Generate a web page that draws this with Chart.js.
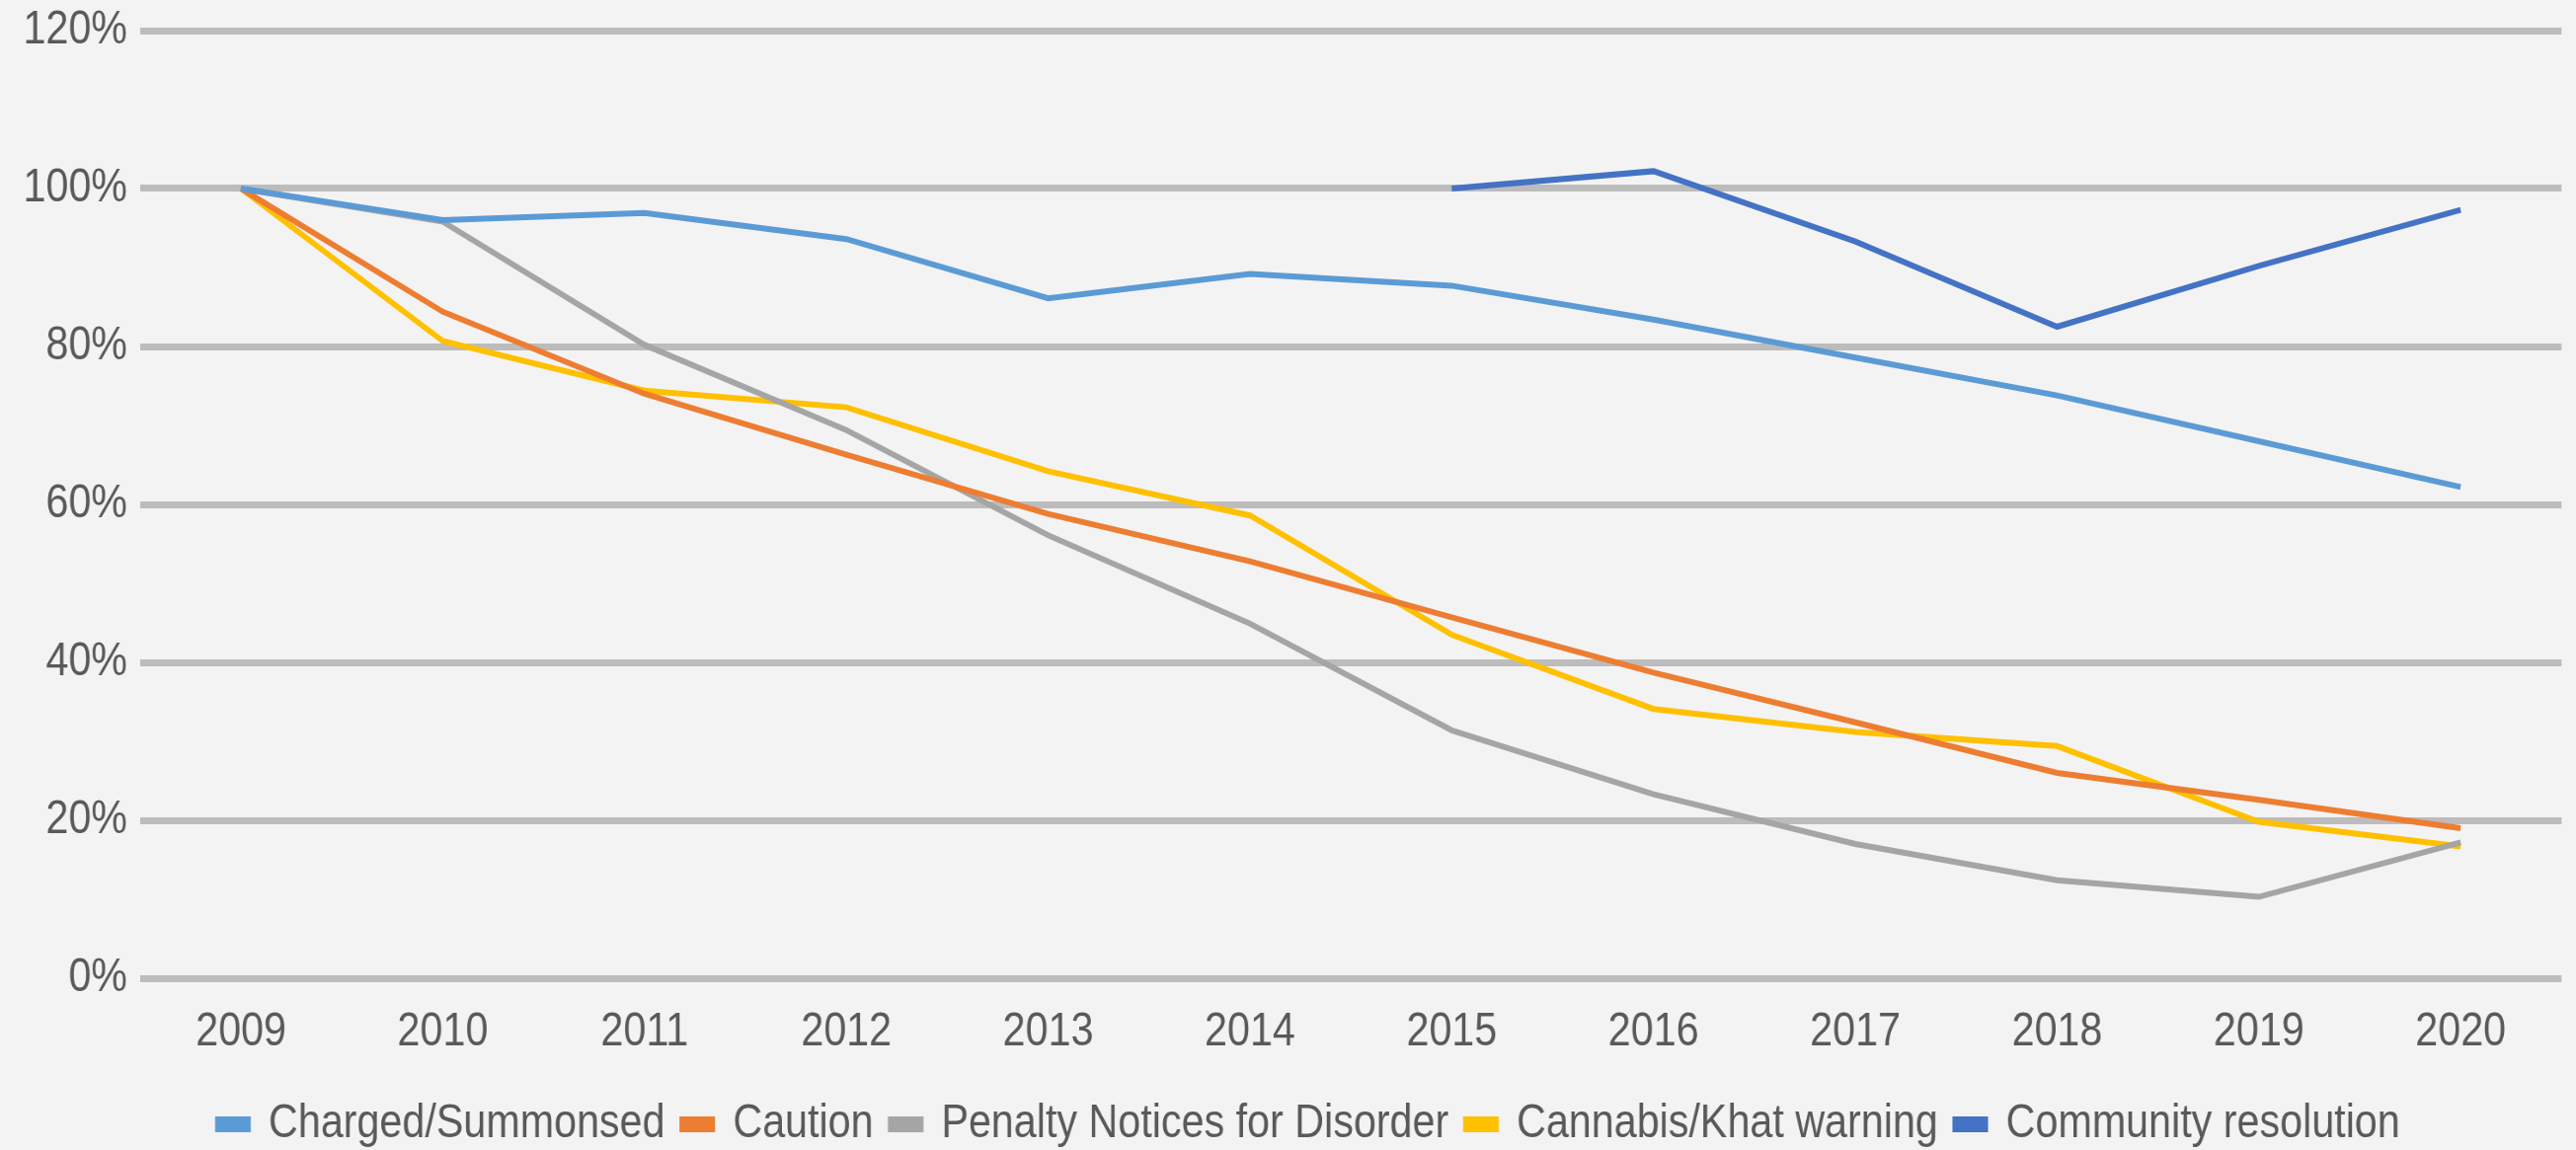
<!DOCTYPE html>
<html>
<head>
<meta charset="utf-8">
<script src="https://cdn.jsdelivr.net/npm/chart.js@4"></script>
<style>
  html, body { margin: 0; padding: 0; background: #f3f3f3; }
  #wrap { width: 2609px; height: 1165px; overflow: hidden; }
  /* the source chart uses a narrow face: draw wider, show squeezed */
  #outcomes { width: 2609px !important; height: 1165px !important; display: block; }
</style>
</head>
<body>
<div id="wrap"><canvas id="outcomes" width="3034" height="1165"></canvas></div>
<script>
const years = ['2009', '2010', '2011', '2012', '2013', '2014', '2015', '2016', '2017', '2018', '2019', '2020'];

// values as % of the 2009 level (community resolution indexed to 2015)
const charged = [100, 96.0, 96.9, 93.6, 86.1, 89.2, 87.7, 83.4, 78.6, 73.8, 68.0, 62.2];
const caution = [100, 84.4, 74.0, 66.3, 58.8, 52.8, 45.7, 38.7, 32.4, 26.0, 22.6, 19.0];
const penaltyNotices = [100, 95.8, 80.2, 69.4, 56.1, 44.9, 31.4, 23.3, 17.0, 12.4, 10.3, 17.2];
const cannabisWarning = [100, 80.7, 74.4, 72.3, 64.2, 58.6, 43.5, 34.1, 31.2, 29.4, 19.8, 16.7];
const communityResolution = [null, null, null, null, null, null, 100, 102.2, 93.3, 82.5, 90.2, 97.3];

const yTicks = [0, 20, 40, 60, 80, 100, 120];

const FONT = "'Liberation Sans', Arial, sans-serif";
const textColor = '#595959';
const gridColor = '#bcbcbc';

// nudge the legend a little right and down, like the original
const legendNudge = {
    id: 'legendNudge',
    afterLayout(chart) {
        const lg = chart.legend;
        lg.left += 33; lg.right += 33;
        lg.top += 8; lg.bottom += 8;
    },
};

const drawChart = () => {
    const ctx = document.querySelector('#outcomes');

    const series = [
        { label: 'Charged/Summonsed', data: charged, color: '#5b9bd5' },
        { label: 'Caution', data: caution, color: '#ed7d31' },
        { label: 'Penalty Notices for Disorder', data: penaltyNotices, color: '#a5a5a5' },
        { label: 'Cannabis/Khat warning', data: cannabisWarning, color: '#ffc000' },
        { label: 'Community resolution', data: communityResolution, color: '#4472c4' },
    ];

    const config = {
        type: 'line',
        data: {
            labels: years,
            datasets: series.map(s => ({
                label: s.label,
                data: s.data,
                borderColor: s.color,
                backgroundColor: s.color,
                borderWidth: 6,
                pointRadius: 0,
                fill: false,
                tension: 0,
            })),
        },
        options: {
            responsive: false,
            animation: false,
            layout: {
                padding: { top: 31, right: 17, left: 0, bottom: 0 },
            },
            scales: {
                x: {
                    offset: true,
                    grid: { display: false, drawTicks: false },
                    border: { display: false },
                    ticks: {
                        color: textColor,
                        font: { family: FONT, size: 48 },
                        padding: 26,
                        maxRotation: 0,
                        autoSkip: false,
                    },
                    afterFit: scale => { scale.height = 96; },
                },
                y: {
                    min: 0,
                    max: 120,
                    afterBuildTicks: scale => {
                        scale.ticks = yTicks.map(v => ({ value: v }));
                    },
                    grid: {
                        color: gridColor,
                        lineWidth: 7,
                        drawTicks: false,
                    },
                    border: { display: false },
                    ticks: {
                        color: textColor,
                        font: { family: FONT, size: 48 },
                        padding: 15,
                        callback: v => v + '%',
                    },
                    afterFit: scale => {
                        scale.width = 165;
                        scale.paddingTop = 0;
                        scale.paddingBottom = 0;
                    },
                },
            },
            plugins: {
                legend: {
                    position: 'bottom',
                    labels: {
                        color: textColor,
                        font: { family: FONT, size: 48 },
                        boxWidth: 36,
                        boxHeight: 10,
                        padding: 20,
                    },
                },
                tooltip: { enabled: false },
            },
        },
        plugins: [legendNudge],
    };

    new Chart(ctx, config);
};

document.addEventListener('DOMContentLoaded', drawChart);
</script>
</body>
</html>
